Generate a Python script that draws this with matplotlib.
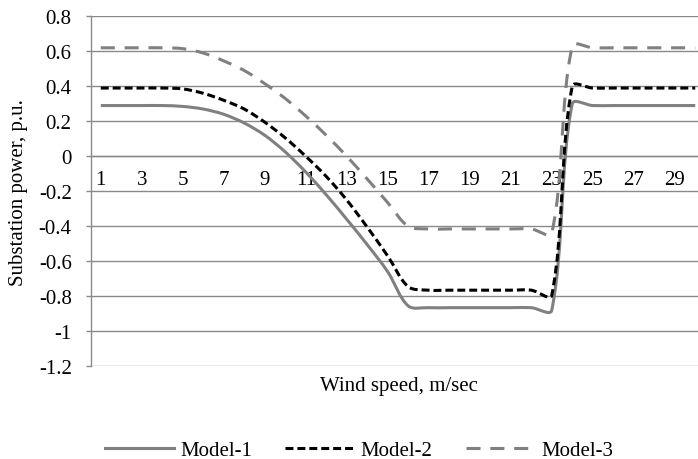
import numpy as np
import matplotlib
matplotlib.use("Agg")
import matplotlib.pyplot as plt
from matplotlib.path import Path
from matplotlib.patches import PathPatch
from matplotlib.lines import Line2D

plt.rcParams["font.family"] = ["Liberation Serif", "DejaVu Serif"]
plt.rcParams["font.size"] = 15

# Wind speed categories (m/sec)
wind_speed = list(range(1, 31))

# Substation power (p.u.) for each model
model_1 = [0.29, 0.29, 0.29, 0.29, 0.285, 0.27, 0.24, 0.19, 0.12, 0.025,
           -0.09, -0.22, -0.36, -0.505, -0.66, -0.855, -0.865, -0.865, -0.865, -0.865,
           -0.865, -0.865, -0.88, 0.30, 0.29, 0.29, 0.29, 0.29, 0.29, 0.29]
model_2 = [0.39, 0.39, 0.39, 0.39, 0.385, 0.36, 0.32, 0.27, 0.195, 0.105,
           0.0, -0.115, -0.25, -0.405, -0.57, -0.745, -0.765, -0.765, -0.765, -0.765,
           -0.765, -0.765, -0.795, 0.40, 0.39, 0.39, 0.39, 0.39, 0.39, 0.39]
model_3 = [0.62, 0.62, 0.62, 0.62, 0.615, 0.59, 0.545, 0.49, 0.415, 0.33,
           0.23, 0.12, 0.0, -0.13, -0.265, -0.40, -0.415, -0.415, -0.415, -0.415,
           -0.415, -0.415, -0.44, 0.63, 0.62, 0.62, 0.62, 0.62, 0.62, 0.62]

series_names = ["Model-1", "Model-2", "Model-3"]
y_ticks = [-1.2, -1.0, -0.8, -0.6, -0.4, -0.2, 0.0, 0.2, 0.4, 0.6, 0.8]
y_tick_labels = ["-1.2", "-1", "-0.8", "-0.6", "-0.4", "-0.2", "0", "0.2", "0.4", "0.6", "0.8"]
x_tick_values = wind_speed[::2]
x_tick_labels = [str(v) for v in x_tick_values]

GRAY = "#808080"
GRID = "#8a8a8a"


def smooth_path(xs, ys, ax):
    """Bezier path through the points, control handles scaled by on-screen chord lengths."""
    pts = np.column_stack([xs, ys]).astype(float)
    disp = ax.transData.transform(pts)
    n = len(pts)
    verts = [pts[0]]
    codes = [Path.MOVETO]

    def dist(a, b):
        return float(np.hypot(*(disp[a] - disp[b])))

    for i in range(n - 1):
        i0, i1, i2, i3 = max(i - 1, 0), i, i + 1, min(i + 2, n - 1)
        d01, d12, d23 = dist(i0, i1), dist(i1, i2), dist(i2, i3)
        f1 = d12 / (d01 + d12) / 3 if d01 + d12 > 0 else 0
        f2 = d12 / (d12 + d23) / 3 if d12 + d23 > 0 else 0
        c1 = pts[i1] + (pts[i2] - pts[i0]) * f1
        c2 = pts[i2] - (pts[i3] - pts[i1]) * f2
        verts += [c1, c2, pts[i2]]
        codes += [Path.CURVE4] * 3
    return Path(verts, codes)


fig = plt.figure(figsize=(6.98, 4.60), dpi=100)
ax = fig.add_axes([0.1297, 0.2015, 0.881, 0.7609])
ax.set_xlim(0.5, 30.5)
ax.set_ylim(-1.2, 0.8)

styles = [
    dict(color=GRAY, lw=2.2, ls="-"),
    dict(color="black", lw=2.2, ls=(0, (2.6, 1.3))),
    dict(color=GRAY, lw=2.2, ls=(0, (4.6, 3.2))),
]

for vals, st in zip([model_1, model_2, model_3], styles):
    path = smooth_path(wind_speed, vals, ax)
    patch = PathPatch(path, fill=False, edgecolor=st["color"], lw=st["lw"],
                      linestyle=st["ls"], capstyle="butt", joinstyle="round", zorder=3)
    ax.add_patch(patch)

# Axes styling
ax.set_axisbelow(True)
ax.set_yticks(y_ticks)
ax.set_yticklabels(y_tick_labels)
ax.yaxis.grid(True, color=GRID, lw=1.0)
ax.tick_params(axis="y", length=5 * 72 / 100, width=1.0, color=GRID, pad=10)

ax.set_xticks(x_tick_values)
ax.set_xticklabels(x_tick_labels)
ax.tick_params(axis="x", length=0, pad=10)

for side in ["top", "right"]:
    ax.spines[side].set_visible(False)
ax.spines["left"].set_color(GRID)
ax.spines["left"].set_linewidth(1.0)
ax.spines["bottom"].set_position(("data", 0))
ax.spines["bottom"].set_color(GRID)
ax.spines["bottom"].set_linewidth(1.0)

ax.set_ylabel("Substation power, p.u.")
ax.yaxis.set_label_coords(-0.1016, 0.5)
fig.text(399 / 698, 1 - 386 / 460, "Wind speed, m/sec", ha="center", va="center")

handles = [Line2D([], [], color=st["color"], lw=st["lw"], linestyle=st["ls"],
                  dash_capstyle="butt") for st in styles]
fig.legend(handles, series_names, loc="center", bbox_to_anchor=(359 / 698, 1 - 451 / 460),
           ncol=3, frameon=False, handlelength=3.3, handletextpad=0.31,
           columnspacing=1.6, borderpad=0, borderaxespad=0)

fig.savefig("out.png", dpi=100)
